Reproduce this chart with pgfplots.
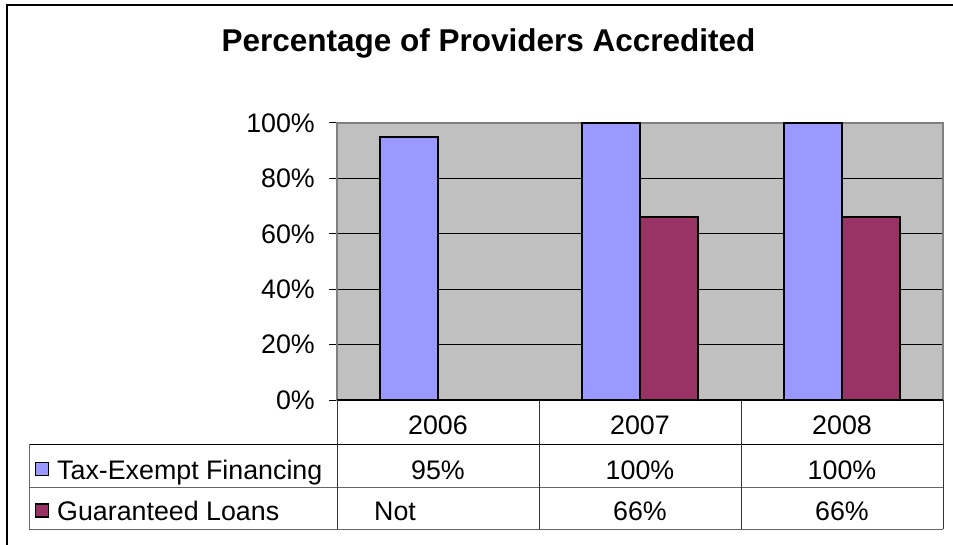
\documentclass[border=0pt]{standalone}
\usepackage{fontspec}
\setmainfont{Liberation Sans}
\usepackage{pgfplots}
\pgfplotsset{compat=1.18}
\definecolor{bgGray}{HTML}{C0C0C0}
\definecolor{barBlue}{HTML}{9999FF}
\definecolor{barMaroon}{HTML}{993366}
\newcommand{\tf}{\fontsize{26.8}{30}\selectfont}
\begin{document}
\begin{tikzpicture}[x=1pt,y=-1pt]
\path[use as bounding box] (0,0) rectangle (953,545);
\fill[white] (0,0) rectangle (953,545);
% outer frame (right and bottom cropped)
\draw[black, line width=1.5pt] (7,545) -- (7,5) -- (953,5);
% title
\node[anchor=base, inner sep=0pt, font=\fontsize{31.5}{36}\selectfont\bfseries] at (488.5,52) {Percentage of Providers Accredited};
\begin{axis}[
  at={(337pt,-400pt)}, anchor=south west,
  scale only axis, width=606pt, height=277pt,
  xmin=-0.5, xmax=2.5, ymin=0, ymax=1,
  clip=false,
  ybar=0pt, bar width=0.2871,
  axis background/.style={fill=bgGray},
  axis line style={draw=gray, line width=1.5pt},
  xtick=\empty,
  ytick={0,0.2,0.4,0.6,0.8,1},
  yticklabels={0\%,20\%,40\%,60\%,80\%,100\%},
  ytick pos=left,
  tick align=outside,
  major tick length=8pt,
  tick style={black, line width=1pt},
  yticklabel style={font=\tf, inner sep=0pt, xshift=-14pt},
  ymajorgrids,
  grid style={black, line width=1pt},
]
\addplot[fill=barBlue, draw=black, line width=2pt] coordinates {(0,0.95) (1,1.00) (2,1.00)};
\addplot[fill=barMaroon, draw=black, line width=2pt] coordinates {(1,0.66) (2,0.66)};
\end{axis}
% data table
\draw[black, line width=1.5pt] (337,400) -- (943,400);
\draw[black, line width=1pt] (29,444) -- (943,444);
\draw[gray!80!black, line width=1pt] (29,487) -- (943,487);
\draw[gray!80!black, line width=1pt] (29,529) -- (943,529);
\draw[gray!80!black, line width=1pt] (29,444) -- (29,529);
\draw[black!80, line width=1pt] (337,400) -- (337,529);
\draw[black!80, line width=1pt] (539,400) -- (539,529);
\draw[black!80, line width=1pt] (741,400) -- (741,529);
\draw[black!80, line width=1pt] (943,400) -- (943,529);
% year row
\node[anchor=base, inner sep=0pt, font=\tf] at (438,434) {2006};
\node[anchor=base, inner sep=0pt, font=\tf] at (640,434) {2007};
\node[anchor=base, inner sep=0pt, font=\tf] at (842,434) {2008};
% series rows
\draw[fill=barBlue, draw=black, line width=1.5pt] (35.5,462.5) rectangle (48.5,475.5);
\node[anchor=base west, inner sep=0pt, font=\tf] at (57,479) {Tax-Exempt Financing};
\node[anchor=base, inner sep=0pt, font=\tf] at (438,479) {95\%};
\node[anchor=base, inner sep=0pt, font=\tf] at (640,479) {100\%};
\node[anchor=base, inner sep=0pt, font=\tf] at (842,479) {100\%};
\draw[fill=barMaroon, draw=black, line width=1.5pt] (35.5,504) rectangle (48.5,517);
\node[anchor=base west, inner sep=0pt, font=\tf] at (57,520) {Guaranteed Loans};
\node[anchor=base west, inner sep=0pt, font=\tf] at (374,520) {Not};
\node[anchor=base, inner sep=0pt, font=\tf] at (640,520) {66\%};
\node[anchor=base, inner sep=0pt, font=\tf] at (842,520) {66\%};
\end{tikzpicture}
\end{document}
